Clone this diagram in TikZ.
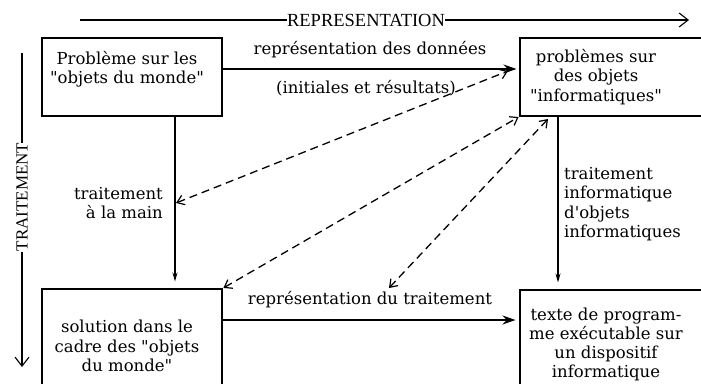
\documentclass[tikz,border=0pt]{standalone}
\usepackage{fontspec}
\setmainfont{DejaVu Serif}[Ligatures=TeXOff]
\newfontfamily\capsfont{Liberation Serif}
\usetikzlibrary{arrows.meta}
\tikzset{
  box/.style={draw, line width=1.1pt, inner sep=0pt},
  txt/.style={font=\fontsize{16.5}{19.5}\selectfont, align=center, inner sep=0pt},
  axis/.style={line width=1.1pt, -{Straight Barb[length=9pt,width=14pt,line width=1.1pt]}},
  solidarrow/.style={line width=1.1pt, -{Stealth[length=13pt,width=9pt]}},
  smallarrow/.style={line width=1.1pt, -{Stealth[length=9pt,width=5pt]}},
  dasharrow/.style={line width=1.3pt, dash pattern=on 8pt off 5pt,
     {Straight Barb[length=7pt,width=10pt,line width=1.2pt]}-{Straight Barb[length=7pt,width=10pt,line width=1.2pt]}},
  captxt/.style={font=\capsfont\fontsize{18.5}{20}\selectfont, inner sep=0pt},
  captxtv/.style={font=\capsfont\fontsize{17}{20}\selectfont, inner sep=0pt}
}
\begin{document}
\begin{tikzpicture}[x=1pt,y=-1pt]
\useasboundingbox (0,0) rectangle (701,383);
\clip (0,0) rectangle (701,383);
\fill[white] (0,0) rectangle (701,383);
% boxes
\node[box, minimum width=180pt, minimum height=78pt] (b1) at (132,77) {};
\node[box, minimum width=190pt, minimum height=78pt] (b2) at (615,77) {};
\node[box, minimum width=180pt, minimum height=110pt] (b3) at (132,344) {};
\node[box, minimum width=190pt, minimum height=110pt] (b4) at (615,345) {};
% box texts
\node[txt] (t1) at (127,69) {Problème sur les\\"objets du monde"};
\node[txt] (t2) at (596,77) {problèmes sur\\des objets\\"informatiques"};
\node[txt] (t3) at (127,346) {solution dans le\\cadre des "objets\\du monde"};
\node[txt, font=\fontsize{16.5}{19}\selectfont] (t4) at (606,344) {texte de program-\\me exécutable sur\\un dispositif\\informatique};
% axes
\node[captxt] (rep) at (366,20) {REPRESENTATION};
\coordinate (repA) at (80,20);
\coordinate (repB) at (689,20);
\draw[line width=1.1pt] (repA) -- (rep.west);
\draw[axis] (rep.east) -- (repB);
\node[captxtv, rotate=90] (trt) at (22,197) {TRAITEMENT};
\coordinate (trtA) at (22,53);
\coordinate (trtB) at (22,367);
\draw[line width=1.1pt] (trtA) -- (trt.east);
\draw[axis] (trt.west) -- (trtB);
% solid arrows
\draw[solidarrow, shorten >=3pt] ([yshift=8pt]b1.east) -- ([yshift=8pt]b2.west);
\node[txt] (l1) at (370,50) {représentation des données};
\node[txt] (l2) at (366,88) {(initiales et résultats)};
\draw[solidarrow, shorten >=4pt] ([yshift=24pt]b3.east) -- ([yshift=25pt]b4.west);
\node[txt] (l3) at (370,300) {représentation du traitement};
\draw[smallarrow, shorten >=7pt] ([xshift=43pt]b1.south) -- ([xshift=43pt]b3.north);
\node[txt, align=right, anchor=east] (l4) at (163,203) {traitement\\à la main};
\draw[smallarrow, shorten >=7pt] ([xshift=-57pt]b2.south) -- ([xshift=-57pt]b4.north);
\node[txt, align=left, anchor=west] (l5) at (564,204) {traitement\\informatique\\d'objets\\informatiques};
% dashed arrows
\coordinate (d1a) at (176,203);
\coordinate (d1b) at (508,71);
\draw[dasharrow] (d1a) -- (d1b);
\draw[dasharrow, shorten <=1pt, shorten >=1pt] (b3.north east) -- (b2.south west);
\coordinate (d3a) at (389,288);
\coordinate (d3b) at (548,119);
\draw[dasharrow] (d3a) -- (d3b);
\end{tikzpicture}
\end{document}
